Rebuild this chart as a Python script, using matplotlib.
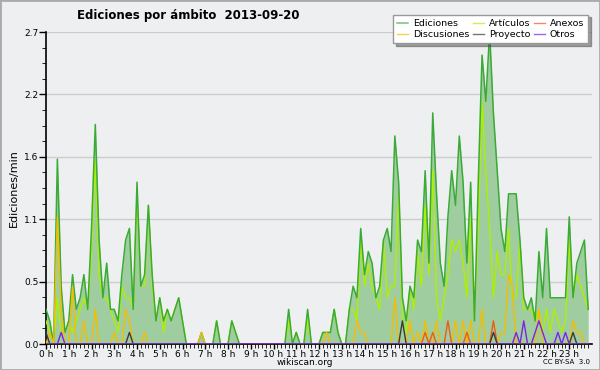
import numpy as np
import matplotlib
matplotlib.use('Agg')
import matplotlib.pyplot as plt
from matplotlib.patches import Rectangle
from matplotlib.ticker import FixedLocator

# Values are edits/min, one value every 10 minutes (144 slots), 6 per row = 1 hour
ediciones = [
    0.3, 0.2, 0.0, 1.6, 0.5, 0.1,   # 0 h
    0.2, 0.6, 0.3, 0.4, 0.6, 0.3,   # 1 h
    1.0, 1.9, 0.9, 0.4, 0.7, 0.3,   # 2 h
    0.3, 0.2, 0.6, 0.9, 1.0, 0.3,   # 3 h
    1.4, 0.5, 0.6, 1.2, 0.6, 0.2,   # 4 h
    0.4, 0.2, 0.3, 0.2, 0.3, 0.4,   # 5 h
    0.2, 0.0, 0.0, 0.0, 0.0, 0.1,   # 6 h
    0.0, 0.0, 0.0, 0.2, 0.0, 0.0,   # 7 h
    0.0, 0.2, 0.1, 0.0, 0.0, 0.0,   # 8 h
    0.0, 0.0, 0.0, 0.0, 0.0, 0.0,   # 9 h
    0.0, 0.0, 0.0, 0.0, 0.3, 0.0,   # 10 h
    0.1, 0.0, 0.0, 0.3, 0.0, 0.0,   # 11 h
    0.0, 0.1, 0.1, 0.1, 0.3, 0.1,   # 12 h
    0.0, 0.0, 0.3, 0.5, 0.4, 1.0,   # 13 h
    0.6, 0.8, 0.7, 0.4, 0.5, 0.9,   # 14 h
    1.0, 0.8, 1.8, 1.4, 0.4, 0.2,   # 15 h
    0.5, 0.4, 0.9, 0.8, 1.5, 0.7,   # 16 h
    2.0, 1.3, 0.7, 0.5, 1.1, 1.5,   # 17 h
    1.2, 1.8, 1.4, 0.7, 1.4, 0.2,   # 18 h
    1.4, 2.5, 2.1, 2.7, 2.0, 1.5,   # 19 h
    1.0, 0.8, 1.3, 1.3, 1.3, 0.9,   # 20 h
    0.4, 0.3, 0.4, 0.2, 0.8, 0.4,   # 21 h
    1.0, 0.4, 0.4, 0.4, 0.4, 0.4,   # 22 h
    1.1, 0.4, 0.7, 0.8, 0.9, 0.3,   # 23 h
]

articulos = [
    0.2, 0.1, 0.0, 0.4, 0.1, 0.1,
    0.2, 0.1, 0.2, 0.3, 0.4, 0.3,
    0.8, 1.6, 0.6, 0.4, 0.4, 0.3,
    0.2, 0.1, 0.5, 0.4, 0.4, 0.3,
    1.3, 0.5, 0.5, 1.2, 0.5, 0.2,
    0.4, 0.1, 0.3, 0.2, 0.3, 0.4,
    0.2, 0.0, 0.0, 0.0, 0.0, 0.0,
    0.0, 0.0, 0.0, 0.2, 0.0, 0.0,
    0.0, 0.2, 0.1, 0.0, 0.0, 0.0,
    0.0, 0.0, 0.0, 0.0, 0.0, 0.0,
    0.0, 0.0, 0.0, 0.0, 0.2, 0.0,
    0.1, 0.0, 0.0, 0.2, 0.0, 0.0,
    0.0, 0.1, 0.1, 0.1, 0.3, 0.1,
    0.0, 0.0, 0.3, 0.3, 0.2, 0.9,
    0.5, 0.7, 0.5, 0.4, 0.3, 0.9,
    0.4, 0.5, 0.5, 1.3, 0.2, 0.1,
    0.5, 0.3, 0.8, 0.5, 1.2, 0.6,
    1.5, 0.4, 0.2, 0.4, 0.6, 0.9,
    0.8, 0.9, 0.7, 0.4, 1.1, 0.2,
    1.0, 2.1, 1.5, 1.0, 0.4, 0.8,
    0.6, 0.6, 1.0, 0.4, 0.4, 0.9,
    0.3, 0.3, 0.3, 0.2, 0.3, 0.1,
    0.3, 0.1, 0.3, 0.2, 0.1, 0.2,
    0.9, 0.4, 0.6, 0.5, 0.4, 0.3,
]

# sparse series: slot index -> value
disc_slots = [1, 3, 4, 7, 10, 13, 18, 21, 22, 26, 41, 74, 82, 83, 84, 92, 96, 98,
              100, 103, 108, 110, 112, 115, 120, 121, 122, 123, 130, 139, 140, 141]
disc_vals = [0.1, 1.1, 0.3, 0.5, 0.2, 0.3, 0.1, 0.3, 0.2, 0.1, 0.1, 0.1, 0.2, 0.1, 0.1, 0.4, 0.2, 0.1,
             0.2, 0.2, 0.2, 0.2, 0.2, 0.3, 0.1, 0.1, 0.6, 0.5, 0.3, 0.2, 0.1, 0.1]
anexos_slots = [100, 102, 106, 111, 118]
anexos_vals = [0.1, 0.1, 0.2, 0.1, 0.2]
proy_slots = [0, 22, 94, 118, 139]
proy_vals = [0.1, 0.1, 0.2, 0.1, 0.1]
otros_slots = [4, 124, 126, 129, 130, 131, 135, 137]
otros_vals = [0.1, 0.1, 0.2, 0.1, 0.2, 0.1, 0.1, 0.1]

hour_labels = ['%d h' % h for h in range(24)]
bg = '#eeeff1'


def full(slots, vals):
    arr = np.zeros(144)
    arr[slots] = vals
    return arr


t = np.arange(144) / 6.0

fig = plt.figure(figsize=(6, 3.7), dpi=100, facecolor=bg)
ax = fig.add_axes([46/600, 1-344/370, 546/600, 312/370], facecolor=bg)

ax.fill_between(t, ediciones, color='#9fcd9f', lw=0, zorder=2)
l2, = ax.plot(t, articulos, color='#aef000', lw=1.0, zorder=3, label='Artículos')
l1, = ax.plot(t, ediciones, color='#3aab36', lw=1.1, zorder=4, label='Ediciones')
l3, = ax.plot(t, full(anexos_slots, anexos_vals), color='#f05a14', lw=1.0, zorder=6, label='Anexos')
l4, = ax.plot(t, full(disc_slots, disc_vals), color='#f5bd00', lw=1.0, zorder=5, label='Discusiones')
l5, = ax.plot(t, full(proy_slots, proy_vals), color='#3a3a3a', lw=1.0, zorder=7, label='Proyecto')
l6, = ax.plot(t, full(otros_slots, otros_vals), color='#7b22ee', lw=1.0, zorder=8, label='Otros')

ax.set_xlim(0, 24)
ax.set_ylim(0, 2.7)
yt = np.linspace(0, 2.7, 6)
ax.set_yticks(yt)
ax.set_yticklabels(['%.1f' % v for v in yt])
ax.yaxis.set_minor_locator(FixedLocator(np.arange(0, 2.71, 0.135)))
ax.set_xticks(range(24))
ax.set_xticklabels(hour_labels)
ax.xaxis.set_minor_locator(FixedLocator(np.arange(144) / 6.0))
ax.tick_params(axis='both', labelsize=6.5, width=1, color='black', pad=0.5)
ax.tick_params(axis='x', which='major', length=3.5)
ax.tick_params(axis='x', which='minor', length=3)
ax.tick_params(axis='y', which='major', length=5)
ax.tick_params(axis='y', which='minor', length=3)
ax.grid(axis='y', color='#cccccc', lw=1, zorder=1)
ax.set_axisbelow(True)
for s in ['top', 'right']:
    ax.spines[s].set_visible(False)
ax.spines['left'].set_linewidth(1.2)
ax.spines['bottom'].set_linewidth(1.2)
ax.set_ylabel('Ediciones/min', fontsize=8, labelpad=4)

leg = ax.legend(handles=[l1, l4, l2, l5, l3, l6], ncol=3, fontsize=6.8,
                loc='upper right', bbox_to_anchor=(593/600, 1-10/370),
                bbox_transform=fig.transFigure, fancybox=False, shadow=True,
                framealpha=1, edgecolor='#999999', handlelength=1.2,
                handletextpad=0.5, columnspacing=0.35, labelspacing=0.2,
                borderpad=0.45)
leg.set_zorder(20)
for h in leg.legend_handles:
    h.set_alpha(0.7)

fig.text(188/600, 1-15/370, 'Ediciones por ámbito  2013-09-20', ha='center', va='center',
         fontsize=8.5, fontweight='bold')
fig.text(305/600, 1-362.5/370, 'wikiscan.org', ha='center', va='center', fontsize=6.5)
fig.text(590/600, 1-362.5/370, 'CC BY-SA  3.0', ha='right', va='center', fontsize=5)
fig.patches.append(Rectangle((0, 0), 1, 1, transform=fig.transFigure, fill=False,
                             edgecolor='#aaaaaa', lw=2))

fig.savefig('out.png', dpi=100, facecolor=bg)
